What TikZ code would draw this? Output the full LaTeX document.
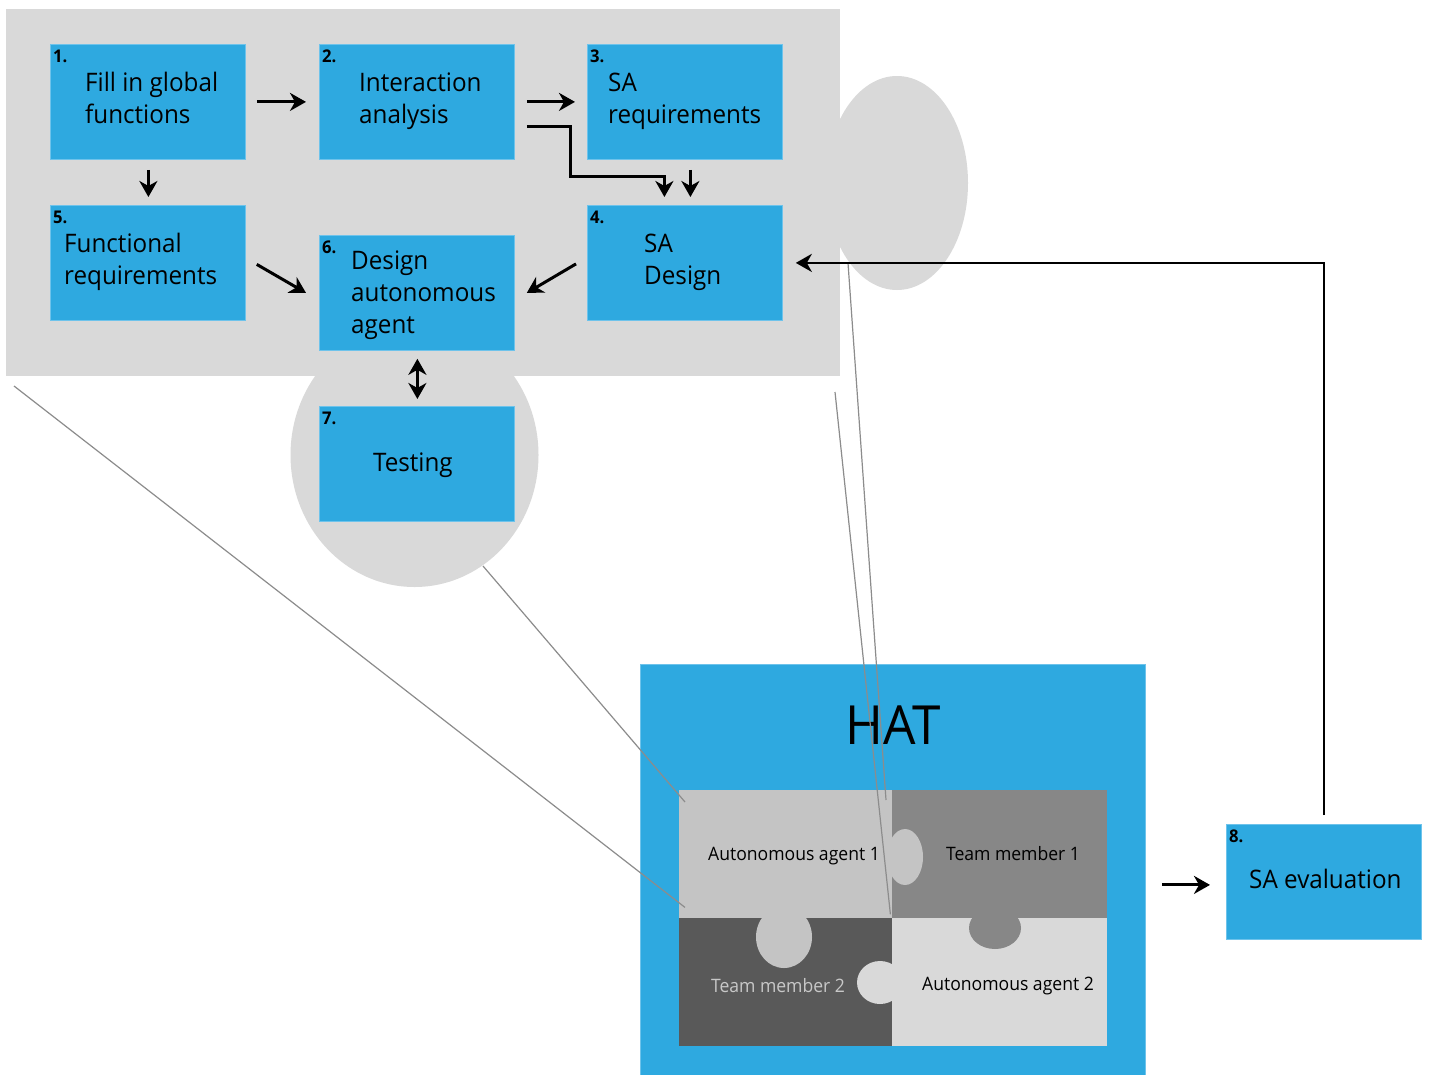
\documentclass[tikz,border=0pt]{standalone}
\usepackage{fontspec}
\setmainfont{Open Sans}[FakeStretch=0.95]
\usetikzlibrary{arrows.meta,calc}
\definecolor{hblue}{RGB}{46,169,224}
\definecolor{hedge}{RGB}{110,195,235}
\definecolor{bgrey}{RGB}{217,217,217}
\definecolor{lgrey}{RGB}{196,196,196}
\definecolor{mgrey}{RGB}{135,135,135}
\definecolor{dgrey}{RGB}{89,89,89}
\definecolor{callout}{RGB}{140,140,140}
\definecolor{tmtwo}{RGB}{200,200,200}
\newcommand{\bl}[1]{\strut#1}
\begin{document}
\begin{tikzpicture}[x=1pt,y=-1pt,
  box/.style={fill=hblue, draw=hedge, line width=0.8pt, minimum width=195pt, minimum height=115pt, inner sep=0pt, anchor=north west},
  num/.style={font=\fontsize{17.5}{19}\selectfont\bfseries, anchor=north west, inner sep=0pt},
  txt/.style={font=\fontsize{25.5}{32}\selectfont, align=left, anchor=west, inner sep=0pt},
  ptxt/.style={font=\fontsize{18.5}{22}\selectfont, inner sep=0pt},
  quad/.style={minimum width=213pt, minimum height=128pt, inner sep=0pt, anchor=north west, draw=none},
  arr/.style={line width=3pt, -{Stealth[length=16pt,width=18pt,inset=5pt]}},
  darr/.style={line width=3pt, {Stealth[length=16pt,width=18pt,inset=5pt]}-{Stealth[length=16pt,width=18pt,inset=5pt]}},
  cline/.style={draw=callout, line width=1.2pt}
]
\useasboundingbox (0,0) rectangle (1429,1074);
\fill[white] (0,0) rectangle (1429,1074);
% grey backgrounds
\fill[bgrey] (897,183) ellipse [x radius=71, y radius=107];
\fill[bgrey] (414.5,455) ellipse [x radius=124, y radius=132];
\fill[bgrey] (6,9) rectangle (840,376);
% boxes
\node[box] (b1) at (50,44) {};
\node[box] (b2) at (319,44) {};
\node[box] (b3) at (587,44) {};
\node[box] (b5) at (50,205) {};
\node[box] (b6) at (319,235) {};
\node[box] (b4) at (587,205) {};
\node[box] (b7) at (319,406) {};
\node[box] (b8) at (1226,824) {};
% numbers
\node[num] (n1) at ($(b1.north west)+(3,6)$) {1.};
\node[num] (n2) at ($(b2.north west)+(3,6)$) {2.};
\node[num] (n3) at ($(b3.north west)+(3,6)$) {3.};
\node[num] (n5) at ($(b5.north west)+(3,6)$) {5.};
\node[num] (n6) at ($(b6.north west)+(3,6)$) {6.};
\node[num] (n4) at ($(b4.north west)+(3,6)$) {4.};
\node[num] (n7) at ($(b7.north west)+(3,6)$) {7.};
\node[num] (n8) at ($(b8.north west)+(3,6)$) {8.};
% texts
\node[txt] (t1) at ($(b1.west)+(35,-1)$) {\bl{Fill in global}\\\bl{functions}};
\node[txt] (t2) at ($(b2.west)+(40,-1)$) {\bl{Interaction}\\\bl{analysis}};
\node[txt] (t3) at ($(b3.west)+(21,-1)$) {\bl{SA}\\\bl{requirements}};
\node[txt] (t5) at ($(b5.west)+(14,-1)$) {\bl{Functional}\\\bl{requirements}};
\node[txt] (t6) at ($(b6.west)+(32,2)$) {\bl{Design}\\\bl{autonomous}\\\bl{agent}};
\node[txt] (t4) at ($(b4.west)+(57,-1)$) {\bl{SA}\\\bl{Design}};
\node[txt, anchor=center] (t7) at ($(b7.center)+(-4,1)$) {\bl{Testing}};
\node[txt] (t8) at ($(b8.west)+(23,0)$) {\bl{SA evaluation}};
% arrows
\draw[arr] ($(b1.east)+(11,0)$) -- ($(b2.west)+(-13,0)$);
\draw[arr] ($(b2.east)+(12,0)$) -- ($(b3.west)+(-12,0)$);
\draw[arr] ($(b2.east)+(12,24.5)$) -| ($(b4.north)+(-114.5,-29)$) -| ($(b4.north)+(-20.5,-8)$);
\draw[arr] ($(b3.south)+(5.5,10)$) -- ($(b4.north)+(5.5,-8)$);
\draw[arr] ($(b1.south)+(0.5,10)$) -- ($(b5.north)+(0.5,-8)$);
\draw[arr] ($(b5.east)+(11,1.5)$) -- ($(b6.west)+(-13,0)$);
\draw[arr] ($(b4.west)+(-11,1)$) -- ($(b6.east)+(12,0)$);
\draw[darr] ($(b6.south)+(0.5,8)$) -- ($(b7.north)+(0.5,-7)$);
% HAT
\node[fill=hblue, draw=hedge, line width=0.8pt, minimum width=505pt, minimum height=412pt, inner sep=0pt, anchor=north west] (hat) at (640,664) {};
\node[font=\fontsize{54}{60}\selectfont, inner sep=0pt] (hatt) at (893,725) {HAT};
\node[quad, fill=lgrey] (q1) at (679,790) {};
\node[quad, fill=mgrey, minimum width=215pt] (q2) at (892,790) {};
\node[quad, fill=dgrey] (q3) at (679,918) {};
\node[quad, fill=bgrey, minimum width=215pt] (q4) at (892,918) {};
\fill[lgrey] (905,857) ellipse [x radius=18, y radius=28];
\fill[lgrey] (784,937) ellipse [x radius=28, y radius=31];
\fill[bgrey] (880,982.5) ellipse [x radius=23, y radius=21.5];
\fill[mgrey] (995,928) ellipse [x radius=26, y radius=21];
\node[ptxt] (aa1) at (794,856) {Autonomous agent 1};
\node[ptxt] (tm1) at (1013,854) {Team member 1};
\node[ptxt, text=tmtwo] (tm2) at (778,986) {Team member 2};
\node[ptxt] (aa2) at (1008,986) {Autonomous agent 2};
% callout lines
\coordinate (ca) at (14,386);
\coordinate (cb) at (483,566);
\coordinate (cc) at (848,263);
\coordinate (cd) at (835,392);
\draw[cline] (ca) -- ($(q1.south west)+(6,-11)$);
\draw[cline] (cb) -- ($(q1.north west)+(6,12)$);
\draw[cline] (cc) -- ($(q2.north west)+(-6,10)$);
\draw[cline] (cd) -- ($(q1.south east)+(-2,-4)$);
% feedback arrows
\draw[arr] ($(hat.east |- b8.west)+(16,3)$) -- ($(b8.west)+(-16,3)$);
\draw[arr, line width=2.6pt] ($(b8.north)+(0,-9)$) |- ($(b4.east)+(13,0)$);
\end{tikzpicture}
\end{document}
